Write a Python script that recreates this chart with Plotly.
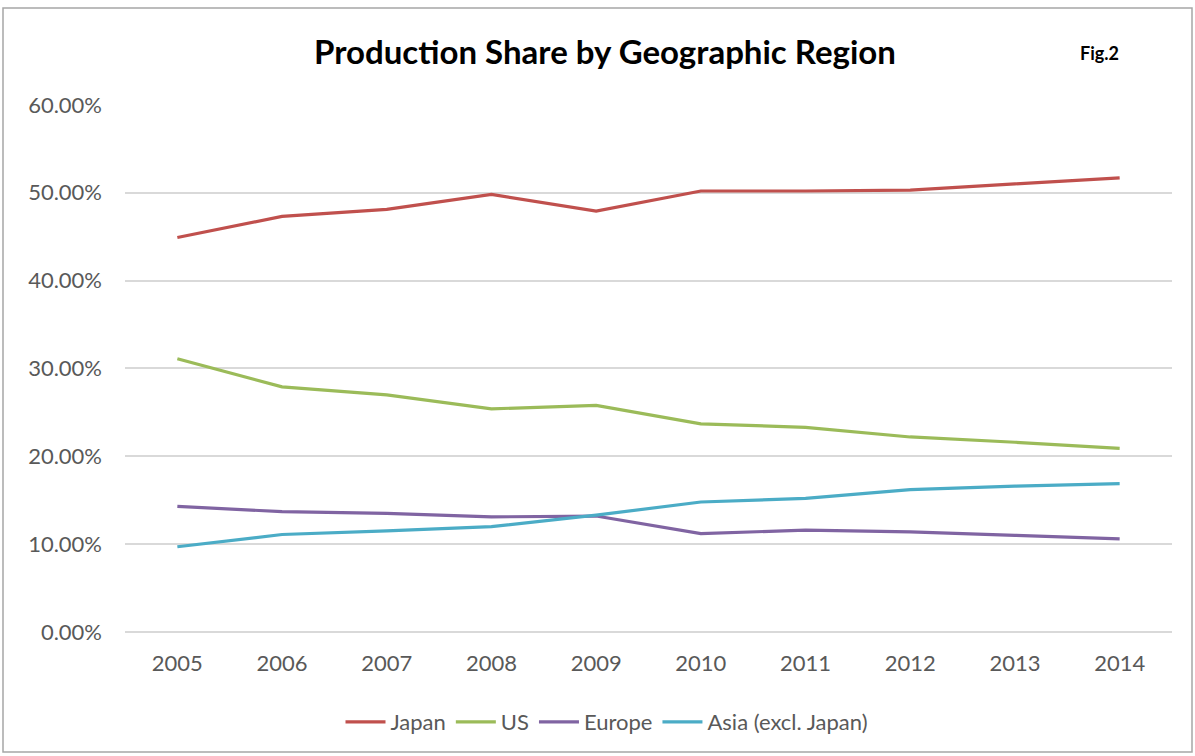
import plotly.graph_objects as go

years = ["2005", "2006", "2007", "2008", "2009", "2010", "2011", "2012", "2013", "2014"]
japan = [44.9, 47.3, 48.1, 49.8, 47.9, 50.2, 50.2, 50.3, 51.0, 51.7]
us = [31.1, 27.9, 27.0, 25.4, 25.8, 23.7, 23.3, 22.2, 21.6, 20.9]
europe = [14.3, 13.7, 13.5, 13.1, 13.2, 11.2, 11.6, 11.4, 11.0, 10.6]
asia = [9.7, 11.1, 11.5, 12.0, 13.3, 14.8, 15.2, 16.2, 16.6, 16.9]

series = [
    ("Japan", japan, "#C0504D"),
    ("US", us, "#9BBB59"),
    ("Europe", europe, "#8064A2"),
    ("Asia (excl. Japan)", asia, "#4BACC6"),
]

tick_vals = [0, 10, 20, 30, 40, 50, 60]
tick_text = ["0.00%", "10.00%", "20.00%", "30.00%", "40.00%", "50.00%", "60.00%"]

fig = go.Figure()
for name, vals, color in series:
    fig.add_trace(go.Scatter(
        x=years, y=vals, name=name, mode="lines",
        line=dict(color=color, width=3.2),
    ))

L, R, T, B = 125, 23, 104, 124
W, H = 1195, 756
pw, ph = W - L - R, H - T - B

fig.update_layout(
    width=W, height=H,
    margin=dict(l=L, r=R, t=T, b=B),
    paper_bgcolor="white", plot_bgcolor="white",
    font=dict(family="Lato, Open Sans, sans-serif", color="#595959", size=22),
    title=dict(
        text="<b>Production Share by Geographic Region</b>",
        x=605 / W, xanchor="center",
        y=1 - 52 / H, yanchor="middle",
        font=dict(size=33, color="#000000", family="Lato, sans-serif"),
    ),
    xaxis=dict(
        type="category", range=[-0.5, 9.5],
        showgrid=False, showline=False, ticks="",
        ticklabelstandoff=16,
        tickfont=dict(size=22, color="#595959"),
    ),
    yaxis=dict(
        range=[0, 60.1], tickvals=tick_vals, ticktext=tick_text,
        showgrid=True, gridcolor="#D9D9D9", gridwidth=1.5,
        zeroline=True, zerolinecolor="#D9D9D9", zerolinewidth=1.5,
        showline=False, ticks="", ticklabelstandoff=22,
        tickfont=dict(size=22, color="#595959"),
    ),
    legend=dict(
        orientation="h", x=(607 - L) / pw, xanchor="center",
        y=(H - B - 722) / ph, yanchor="middle",
        font=dict(size=22, color="#595959"),
        itemwidth=40, traceorder="normal",
    ),
    showlegend=True,
)

fig.add_annotation(
    text="<b>Fig.2</b>", xref="paper", yref="paper",
    x=(1099 - L) / pw, y=(H - B - 53) / ph, xanchor="center", yanchor="middle",
    showarrow=False, font=dict(size=18, color="#000000", family="Lato, sans-serif"),
)

fig.add_shape(
    type="rect", xref="paper", yref="paper",
    x0=(3 - L) / pw, x1=(1192 - L) / pw,
    y0=(H - B - 752) / ph, y1=(H - B - 8) / ph,
    line=dict(color="#A6A6A6", width=1.5), fillcolor="rgba(0,0,0,0)",
    layer="below",
)

fig.write_html("out.html", config={"displayModeBar": False},
               post_script="document.body.style.margin='0';")
